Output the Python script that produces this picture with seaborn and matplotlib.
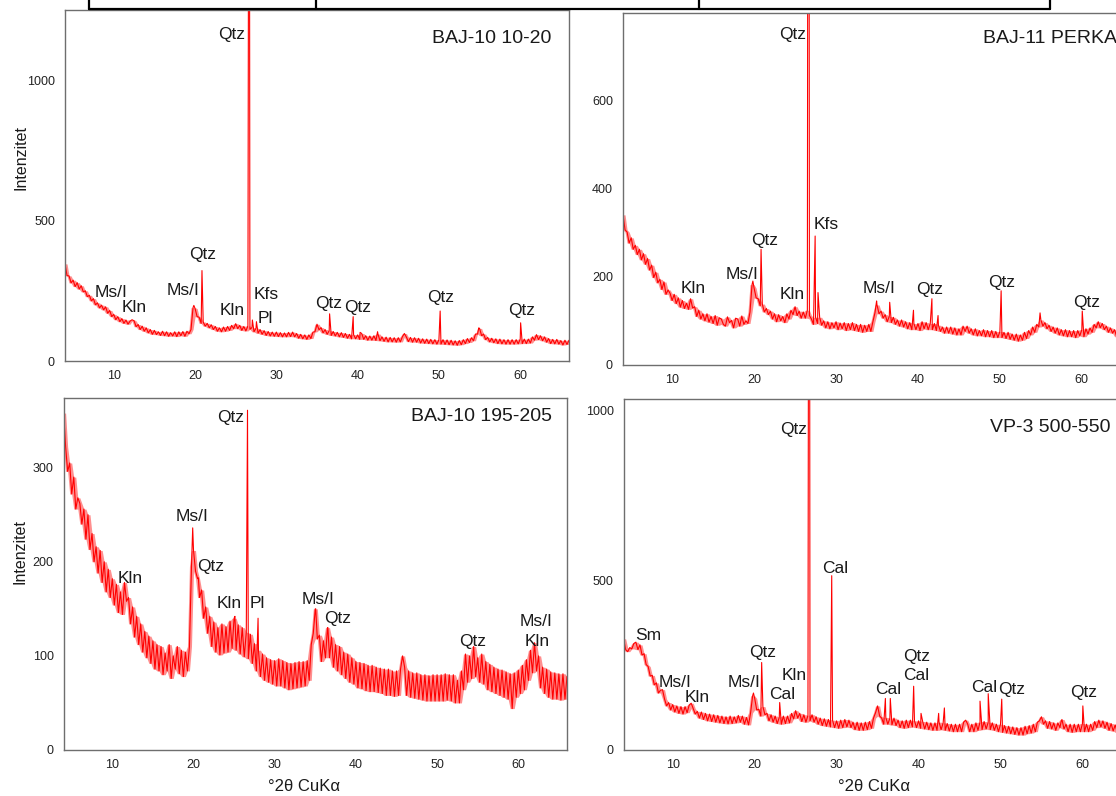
import numpy as np
import pandas as pd
import matplotlib
matplotlib.use("Agg")
import matplotlib.pyplot as plt
import seaborn as sns
from matplotlib.lines import Line2D
from matplotlib.ticker import MultipleLocator, FixedLocator

sns.set_style("white")
plt.rcParams['font.family'] = ['Liberation Sans', 'DejaVu Sans']

# ---------------- data ----------------
SCAN_START, SCAN_STOP = 4.0, 66.0   # degrees 2-theta, step 0.25

sample_names = ["BAJ-10 10-20", "BAJ-11 PERKA", "BAJ-10 195-205", "VP-3 500-550"]

tl_counts = [
    346, 304, 303, 278, 288, 265, 279, 256,
    268, 246, 250, 229, 234, 214, 222, 200,
    207, 189, 199, 182, 193, 170, 180, 158,
    166, 147, 158, 140, 151, 134, 146, 131,
    142, 147, 143, 122, 130, 112, 124, 106,
    118, 100, 112, 95, 109, 94, 104, 91,
    106, 90, 104, 88, 101, 89, 104, 87,
    104, 90, 105, 88, 106, 97, 112, 190,
    187, 158, 156, 134, 139, 124, 134, 118,
    129, 112, 123, 106, 118, 104, 121, 106,
    123, 109, 127, 115, 133, 115, 127, 109,
    123, 107, 125, 113, 119, 104, 117, 99,
    112, 95, 108, 91, 105, 89, 103, 88,
    103, 87, 101, 86, 100, 86, 102, 87,
    103, 86, 98, 81, 95, 79, 93, 77,
    93, 80, 103, 104, 131, 111, 119, 100,
    112, 95, 108, 91, 105, 89, 102, 86,
    101, 84, 98, 81, 95, 79, 94, 79,
    93, 77, 98, 77, 90, 74, 89, 74,
    90, 73, 96, 72, 86, 70, 85, 68,
    84, 68, 83, 67, 83, 68, 86, 98,
    85, 69, 84, 67, 83, 67, 81, 64,
    79, 63, 78, 62, 77, 61, 76, 60,
    76, 60, 76, 59, 75, 58, 74, 57,
    72, 56, 73, 58, 76, 62, 80, 66,
    83, 72, 96, 96, 116, 90, 96, 76,
    84, 68, 81, 65, 79, 62, 78, 61,
    76, 60, 76, 60, 76, 60, 76, 61,
    78, 62, 78, 62, 78, 64, 86, 74,
    94, 76, 90, 72, 86, 67, 80, 62,
    77, 61, 77, 60, 73, 57, 74, 59,
    74]
tl_peak_2theta = [19.85, 20.85, 26.65, 27.05, 27.55, 36.55, 39.45, 40.3, 42.45, 50.15, 54.9, 60.05]
tl_peak_counts = [198, 322, 3000, 146, 140, 168, 158, 102, 104, 178, 118, 136]

tr_counts = [
    340, 306, 301, 276, 288, 262, 271, 250,
    262, 238, 252, 228, 241, 215, 226, 198,
    210, 186, 194, 171, 188, 160, 170, 162,
    146, 160, 139, 152, 131, 146, 128, 140,
    126, 150, 129, 132, 110, 124, 104, 116,
    100, 116, 97, 110, 94, 112, 90, 107,
    104, 92, 88, 109, 96, 101, 84, 106,
    104, 88, 111, 92, 100, 94, 120, 182,
    174, 152, 150, 134, 138, 120, 128, 114,
    122, 104, 116, 98, 114, 100, 110, 96,
    116, 104, 124, 114, 132, 112, 122, 106,
    120, 106, 124, 112, 104, 92, 108, 94,
    108, 90, 100, 84, 98, 82, 96, 84,
    98, 80, 95, 82, 96, 78, 94, 80,
    96, 78, 92, 76, 92, 74, 90, 76,
    92, 76, 98, 118, 136, 116, 122, 106,
    114, 98, 110, 96, 108, 92, 102, 88,
    102, 86, 98, 82, 96, 80, 94, 80,
    94, 78, 98, 82, 96, 80, 94, 80,
    94, 78, 90, 76, 86, 72, 86, 72,
    86, 70, 84, 68, 82, 68, 88, 76,
    88, 72, 82, 68, 82, 66, 78, 66,
    80, 64, 78, 64, 78, 62, 76, 62,
    76, 62, 74, 60, 74, 58, 70, 56,
    70, 54, 68, 56, 74, 60, 78, 68,
    86, 74, 92, 86, 102, 88, 96, 82,
    90, 76, 86, 72, 84, 68, 80, 66,
    80, 64, 78, 64, 78, 62, 78, 66,
    80, 64, 82, 70, 84, 74, 92, 84,
    98, 84, 94, 80, 88, 74, 84, 72,
    80, 64, 78, 62, 76, 60, 76, 62,
    74]
tr_peak_2theta = [19.85, 20.85, 26.65, 27.45, 27.8, 34.95, 36.55, 39.45, 41.7, 42.45, 50.15, 54.9, 60.05]
tr_peak_counts = [190, 262, 3000, 292, 164, 145, 142, 124, 150, 112, 168, 118, 122]

bl_counts = [
    358, 322, 296, 305, 272, 290, 256, 268,
    262, 240, 256, 224, 250, 213, 230, 200,
    216, 188, 212, 178, 200, 168, 192, 162,
    182, 154, 176, 146, 168, 144, 178, 158,
    162, 134, 152, 120, 142, 112, 134, 104,
    126, 98, 121, 92, 116, 86, 112, 84,
    110, 80, 103, 84, 112, 76, 100, 86,
    110, 81, 106, 78, 104, 84, 110, 195,
    212, 190, 182, 162, 170, 140, 152, 124,
    142, 110, 136, 104, 130, 101, 134, 103,
    131, 104, 137, 108, 140, 106, 133, 102,
    130, 99, 125, 97, 123, 92, 113, 84,
    106, 78, 102, 74, 98, 72, 96, 70,
    95, 68, 97, 68, 95, 66, 93, 64,
    92, 65, 93, 66, 94, 67, 94, 68,
    95, 74, 112, 124, 150, 118, 122, 94,
    116, 98, 130, 98, 120, 88, 112, 84,
    110, 80, 104, 76, 102, 72, 98, 70,
    94, 66, 93, 65, 92, 63, 90, 62,
    90, 62, 88, 61, 87, 60, 86, 58,
    86, 58, 84, 57, 84, 58, 86, 100,
    88, 58, 84, 56, 82, 55, 82, 54,
    80, 53, 80, 52, 79, 52, 80, 52,
    80, 52, 80, 52, 81, 53, 80, 52,
    80, 50, 74, 50, 84, 64, 102, 72,
    100, 76, 110, 78, 98, 72, 102, 70,
    94, 64, 91, 62, 88, 60, 86, 58,
    85, 56, 83, 54, 81, 44, 82, 56,
    85, 60, 90, 64, 96, 74, 106, 82,
    114, 84, 100, 66, 88, 60, 86, 56,
    83, 54, 82, 54, 81, 53, 81, 54,
    78]
bl_peak_2theta = [19.9, 20.6, 25.1, 26.65, 27.95, 35.05, 36.55]
bl_peak_counts = [236, 183, 142, 361, 140, 150, 130]

br_counts = [
    328, 296, 290, 302, 298, 314, 318, 296,
    310, 280, 284, 252, 246, 218, 220, 192,
    198, 168, 176, 178, 150, 130, 140, 118,
    134, 112, 130, 108, 128, 106, 128, 110,
    132, 138, 122, 106, 114, 94, 112, 90,
    108, 86, 106, 84, 104, 82, 102, 80,
    100, 78, 98, 77, 100, 78, 98, 80,
    102, 82, 100, 76, 96, 74, 110, 160,
    152, 118, 120, 100, 128, 104, 108, 86,
    104, 82, 100, 78, 96, 76, 100, 78,
    100, 80, 108, 92, 116, 94, 108, 84,
    104, 82, 102, 86, 104, 82, 98, 76,
    94, 72, 92, 70, 90, 68, 88, 66,
    86, 64, 88, 66, 90, 68, 88, 66,
    82, 60, 82, 58, 80, 58, 82, 60,
    84, 64, 94, 110, 130, 100, 94, 76,
    96, 76, 94, 74, 94, 72, 88, 66,
    86, 64, 88, 66, 88, 68, 86, 66,
    86, 64, 84, 62, 82, 60, 80, 58,
    80, 58, 82, 60, 80, 58, 78, 56,
    76, 54, 76, 54, 76, 54, 82, 88,
    76, 54, 76, 54, 80, 58, 82, 60,
    84, 62, 82, 60, 80, 58, 76, 54,
    76, 52, 72, 50, 70, 48, 68, 46,
    66, 44, 66, 44, 70, 48, 72, 50,
    76, 54, 82, 86, 98, 76, 86, 64,
    84, 62, 80, 58, 80, 66, 90, 62,
    76, 54, 76, 52, 76, 54, 76, 54,
    78, 54, 76, 54, 76, 58, 84, 66,
    88, 68, 86, 64, 82, 58, 78, 56,
    74, 52, 74, 52, 72, 50, 70, 48,
    68]
br_peak_2theta = [19.85, 20.85, 23.05, 26.65, 29.4, 35.95, 36.55, 39.4, 40.3, 42.45, 43.15, 47.5, 48.5, 50.15, 57.4, 60.05]
br_peak_counts = [168, 258, 140, 3000, 514, 152, 152, 188, 108, 108, 124, 144, 166, 150, 84, 130]

# mineral labels
tl_labels = ["Qtz", "Ms/I", "Kln", "Qtz", "Ms/I", "Kln", "Kfs", "Pl", "Qtz", "Qtz", "Qtz", "Qtz"]
tl_label_x = [24.54, 9.66, 12.49, 20.97, 18.51, 24.54, 28.78, 28.66, 36.42, 40.04, 50.25, 60.15]
tl_label_y = [1146, 228, 175, 363, 235, 164, 221, 136, 189, 175, 211, 164]

tr_labels = ["Qtz", "Kfs", "Qtz", "Ms/I", "Kln", "Kln", "Ms/I", "Qtz", "Qtz", "Qtz"]
tr_label_x = [24.67, 28.79, 21.32, 18.55, 12.61, 24.59, 35.29, 41.37, 50.22, 60.54]
tr_label_y = [737, 308, 272, 195, 162, 149, 162, 161, 176, 131]

bl_labels = ["Qtz", "Ms/I", "Qtz", "Kln", "Kln", "Pl", "Ms/I", "Qtz", "Qtz", "Ms/I", "Kln"]
bl_label_x = [24.6, 19.77, 22.07, 12.16, 24.44, 27.82, 35.3, 37.71, 54.39, 62.22, 62.28]
bl_label_y = [349, 243, 190, 177, 151, 151, 155, 135, 111, 132, 110]

br_labels = ["Qtz", "Cal", "Sm", "Ms/I", "Kln", "Ms/I", "Qtz", "Cal", "Kln", "Cal", "Qtz", "Cal", "Cal", "Qtz", "Qtz"]
br_label_x = [24.73, 29.84, 6.98, 10.23, 13.01, 18.73, 20.91, 23.35, 24.78, 36.32, 39.71, 39.71, 47.99, 51.37, 60.1]
br_label_y = [931, 523, 325, 185, 143, 187, 275, 150, 207, 164, 261, 207, 172, 164, 156]

y_ticks = [[0, 500, 1000], [0, 200, 400, 600], [0, 100, 200, 300], [0, 500, 1000]]
y_limits = [1250, 797, 374, 1035]

# ---------------- layout ----------------
W, H = 1116, 796
fig = plt.figure(figsize=(W / 100, H / 100), dpi=100)


def px_axes(left, right, top, bottom):
    return fig.add_axes([left / W, (H - bottom) / H, (right - left) / W, (bottom - top) / H])


axes = [px_axes(65, 569, 10, 361), px_axes(623, 1131, 13, 365),
        px_axes(63.6, 567, 398, 750), px_axes(623.6, 1131.6, 399, 750)]

panels = [
    (tl_counts, tl_peak_2theta, tl_peak_counts, tl_labels, tl_label_x, tl_label_y),
    (tr_counts, tr_peak_2theta, tr_peak_counts, tr_labels, tr_label_x, tr_label_y),
    (bl_counts, bl_peak_2theta, bl_peak_counts, bl_labels, bl_label_x, bl_label_y),
    (br_counts, br_peak_2theta, br_peak_counts, br_labels, br_label_x, br_label_y),
]
title_pos = [(0.966, 0.906), (0.972, 0.914), (0.970, 0.935), (0.9575, 0.907)]
line_widths = [0.8, 0.8, 0.8, 0.8]

spine_col = '#6e6e6e'
text_col = '#1a1a1a'

for i, (ax, (cnt, pkx, pky, labs, lx, ly)) in enumerate(zip(axes, panels)):
    grid = np.linspace(SCAN_START, SCAN_STOP, len(cnt))
    # noise band: envelope of the measured counts over neighbouring steps
    s = pd.Series(cnt, dtype=float)
    hi = s.rolling(3, center=True, min_periods=1).max()
    lo = s.rolling(3, center=True, min_periods=1).min()
    ax.fill_between(grid, lo, hi, color='#ff2020', alpha=0.5, linewidth=0)

    x = np.concatenate([grid, np.array(pkx, float)])
    y = np.concatenate([np.array(cnt, float), np.array(pky, float)])
    order = np.argsort(x, kind='stable')
    df = pd.DataFrame({'2theta': x[order], 'counts': y[order]})
    sns.lineplot(data=df, x='2theta', y='counts', ax=ax, color='#ff0000',
                 linewidth=line_widths[i], estimator=None, sort=False, legend=False)
    ax.set_xlim(SCAN_START, SCAN_STOP)
    ax.set_ylim(0, y_limits[i])
    ax.xaxis.set_major_locator(FixedLocator([10, 20, 30, 40, 50, 60]))
    ax.xaxis.set_minor_locator(MultipleLocator(1))
    ax.yaxis.set_major_locator(FixedLocator(y_ticks[i]))
    ax.tick_params(axis='both', which='major', direction='out', length=4.2, width=0.8,
                   colors=spine_col, labelcolor='#222222', labelsize=9, pad=2.5)
    ax.tick_params(axis='x', which='minor', direction='out', length=2.2, width=0.7, colors=spine_col)
    ax.tick_params(axis='y', which='major', pad=3)
    for sp in ax.spines.values():
        sp.set_visible(True)
        sp.set_color(spine_col)
        sp.set_linewidth(1.0)
    ax.set_xlabel('')
    ax.set_ylabel('')
    for t, tx, ty in zip(labs, lx, ly):
        ax.text(tx, ty, t, ha='center', va='baseline', fontsize=12.5, color=text_col)
    ax.text(title_pos[i][0], title_pos[i][1], sample_names[i], transform=ax.transAxes,
            ha='right', va='baseline', fontsize=14, color=text_col)

# axis labels
for ax, ly in [(axes[0], 0.581), (axes[2], 0.563)]:
    ax.set_ylabel('Intenzitet', fontsize=11.5, color=text_col)
    ax.yaxis.set_label_coords(-0.072, ly)
for ax, lx in [(axes[2], 0.4785), (axes[3], 0.492)]:
    ax.set_xlabel('°2θ CuKα', fontsize=12, color=text_col)
    ax.xaxis.set_label_coords(lx, -0.082)

# table border at the top
table_y = (H - 8.6) / H
fig.add_artist(Line2D([88.6 / W, 1050 / W], [table_y, table_y], color='black', lw=1.6))
for vx in [88.6, 316, 698.6, 1050]:
    fig.add_artist(Line2D([vx / W, vx / W], [table_y, 1.0], color='black', lw=1.6))

fig.savefig('out.png', dpi=100)
